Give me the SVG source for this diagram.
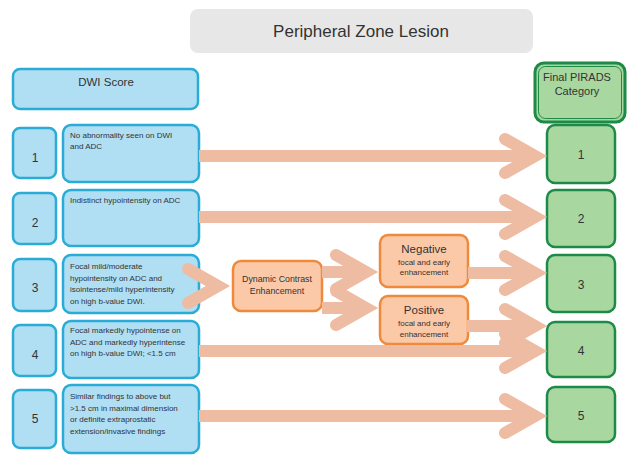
<svg xmlns="http://www.w3.org/2000/svg" width="627" height="459" viewBox="0 0 627 459">
<style>
.t{font-family:"Liberation Sans",Arial,sans-serif;fill:#333}
.blue{fill:#b0def3;stroke:#2aacd6;stroke-width:2.5}
.peach{fill:#fbc9a8;stroke:#ef8a3c;stroke-width:2.5}
.green{fill:#a9d7a0;stroke:#1e8a48;stroke-width:2.5}
.desc{font-size:8px}
.num{font-size:12px;text-anchor:middle}
.mid{text-anchor:middle}
.sh{stroke:#eebba3;stroke-width:12;fill:none}
.ch{stroke:#eebba3;stroke-width:12;fill:none;stroke-linecap:round;stroke-linejoin:miter}
</style>
<rect width="627" height="459" fill="#fff"/>
<g id="title">
<rect x="190" y="9" width="343" height="44" rx="8" fill="#e7e7e7"/>
<text class="t mid" x="361" y="37" font-size="17">Peripheral Zone Lesion</text>
</g>
<g id="dwi-header">
<rect class="blue" x="13" y="69" width="185" height="40" rx="7"/>
<text class="t mid" x="106" y="86" font-size="11.5">DWI Score</text>
</g>
<g id="final-header">
<rect x="535" y="63" width="90" height="59" rx="9" fill="#a9d7a0" stroke="#1e8a48" stroke-width="3"/>
<rect x="538.5" y="66.5" width="83" height="52" rx="7" fill="none" stroke="#1e8a48" stroke-width="1"/>
<text class="t mid" x="577" y="81" font-size="11">Final PIRADS</text>
<text class="t mid" x="577" y="95" font-size="11">Category</text>
</g>
<g id="dwi1">
<rect class="blue" x="13" y="128" width="43" height="50" rx="7"/>
<text class="t num" x="35" y="162">1</text>
<rect class="blue" x="63" y="125" width="136" height="57" rx="8"/>
<text class="t desc" x="70" y="138">No abnormality seen on DWI</text>
<text class="t desc" x="70" y="148.5">and ADC</text>
</g>
<g id="dwi2">
<rect class="blue" x="13" y="193" width="43" height="51" rx="7"/>
<text class="t num" x="35" y="227">2</text>
<rect class="blue" x="63" y="190" width="136" height="56" rx="8"/>
<text class="t desc" x="70" y="203">Indistinct hypointensity on ADC</text>
</g>
<g id="dwi3">
<rect class="blue" x="13" y="259" width="43" height="52" rx="7"/>
<text class="t num" x="35" y="292">3</text>
<rect class="blue" x="63" y="255" width="136" height="58" rx="8"/>
<text class="t desc" x="70" y="269">Focal mild/moderate</text>
<text class="t desc" x="70" y="280.5">hypointensity on ADC and</text>
<text class="t desc" x="70" y="292">isointense/mild hyperintensity</text>
<text class="t desc" x="70" y="303.5">on high b-value DWI.</text>
</g>
<g id="dwi4">
<rect class="blue" x="13" y="325" width="43" height="51" rx="7"/>
<text class="t num" x="35" y="359">4</text>
<rect class="blue" x="63" y="321" width="136" height="57" rx="8"/>
<text class="t desc" x="70" y="333">Focal markedly hypointense on</text>
<text class="t desc" x="70" y="344.5">ADC and markedly hyperintense</text>
<text class="t desc" x="70" y="356">on high b-value DWI; &lt;1.5 cm</text>
</g>
<g id="dwi5">
<rect class="blue" x="13" y="390" width="43" height="58" rx="7"/>
<text class="t num" x="35" y="423">5</text>
<rect class="blue" x="63" y="385" width="136" height="68" rx="8"/>
<text class="t desc" x="70" y="399">Similar findings to above but</text>
<text class="t desc" x="70" y="410.5">&gt;1.5 cm in maximal dimension</text>
<text class="t desc" x="70" y="422">or definite extraprostatic</text>
<text class="t desc" x="70" y="433.5">extension/invasive findings</text>
</g>
<g id="dce">
<rect class="peach" x="233" y="261" width="89" height="50" rx="8"/>
<text class="t mid" x="277" y="282" font-size="8.8" fill="#222">Dynamic Contrast</text>
<text class="t mid" x="277" y="294" font-size="8.8" fill="#222">Enhancement</text>
</g>
<g id="negative">
<rect class="peach" x="380" y="235" width="88" height="52" rx="8"/>
<text class="t mid" x="424" y="253" font-size="11.5">Negative</text>
<text class="t mid" x="424" y="264.5" font-size="8">focal and early</text>
<text class="t mid" x="424" y="275" font-size="8">enhancement</text>
</g>
<g id="positive">
<rect class="peach" x="380" y="296" width="88" height="48" rx="8"/>
<text class="t mid" x="424" y="314" font-size="11.5">Positive</text>
<text class="t mid" x="424" y="326" font-size="8">focal and early</text>
<text class="t mid" x="424" y="336.5" font-size="8">enhancement</text>
</g>
<g id="pirads1">
<rect class="green" x="547" y="125" width="68" height="58" rx="8"/>
<text class="t num" x="581" y="159">1</text>
</g>
<g id="pirads2">
<rect class="green" x="547" y="190" width="68" height="57" rx="8"/>
<text class="t num" x="581" y="223">2</text>
</g>
<g id="pirads3">
<rect class="green" x="547" y="255" width="68" height="57" rx="8"/>
<text class="t num" x="581" y="289">3</text>
</g>
<g id="pirads4">
<rect class="green" x="547" y="322" width="68" height="55" rx="8"/>
<text class="t num" x="581" y="355">4</text>
</g>
<g id="pirads5">
<rect class="green" x="547" y="387" width="68" height="55" rx="8"/>
<text class="t num" x="581" y="420">5</text>
</g>
<g id="connectors">
<path class="sh" d="M199 156H535"/>
<path class="ch" d="M505 139L535 156L505 173"/>
<path class="sh" d="M199 217H535"/>
<path class="ch" d="M505 200L535 217L505 234"/>
<path class="sh" d="M468 273H535"/>
<path class="ch" d="M505 256L535 273L505 290"/>
<path class="sh" d="M467 326H535"/>
<path class="ch" d="M505 309L535 326L505 343"/>
<path class="sh" d="M199 351H535"/>
<path class="ch" d="M505 334L535 351L505 368"/>
<path class="sh" d="M199 416H535"/>
<path class="ch" d="M505 399L535 416L505 433"/>
<path class="sh" d="M322 272H366"/>
<path class="ch" d="M336 255L366 272L336 289"/>
<path class="sh" d="M322 308H366"/>
<path class="ch" d="M336 291L366 308L336 325"/>
<path class="ch" stroke-width="13" d="M188 269L218 286L188 303"/>
</g>
</svg>
